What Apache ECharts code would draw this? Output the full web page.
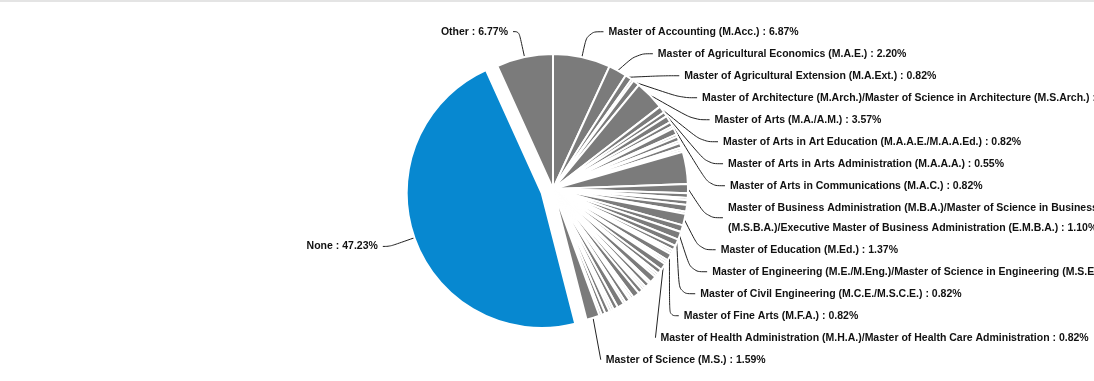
<!DOCTYPE html>
<html>
<head>
<meta charset="utf-8">
<script src="https://cdn.jsdelivr.net/npm/echarts@6/dist/echarts.min.js"></script>
<style>
  html, body { margin: 0; padding: 0; background: #fff; }
  #chart { width: 1094px; height: 381px; }
</style>
</head>
<body>
<div id="chart"></div>
<script>
// Graduate degree held, share of respondents (%), in list order (clockwise from 12 o'clock)
const degrees = [
  'Master of Accounting (M.Acc.)',
  'Master of Agricultural Economics (M.A.E.)',
  'Master of Agricultural Extension (M.A.Ext.)',
  'Master of Applied Science (M.A.S.)',
  'Master of Architecture (M.Arch.)/Master of Science in Architecture (M.S.Arch.)',
  'Master of Arts (M.A./A.M.)',
  'Master of Arts in Art Education (M.A.A.E./M.A.A.Ed.)',
  'Master of Arts in Arts Administration (M.A.A.A.)',
  'Master of Arts in Communications (M.A.C.)',
  'Master of Arts in Counseling (M.A.Couns.)',
  'Master of Arts in Economics (M.A.Econ.)',
  'Master of Arts in Education (M.A.Ed.)',
  'Master of Arts in English (M.A.Eng.)',
  'Master of Arts in Journalism (M.A.J.)',
  'Master of Arts in Liberal Studies (M.A.L.S.)',
  'Master of Arts in Psychology (M.A.Psy.)',
  'Master of Arts in Public Relations (M.A.P.R.)',
  'Master of Arts in Religion (M.A.R.)',
  'Master of Arts in Teaching (M.A.T.)',
  'Master of Business Administration (M.B.A.)/Master of Science in Business\n(M.S.B.A.)/Executive Master of Business Administration (E.M.B.A.)',
  'Master of Computer Science (M.C.S.)',
  'Master of Counseling (M.Couns.)',
  'Master of Criminal Justice (M.C.J.)',
  'Master of Divinity (M.Div.)',
  'Master of Economics (M.Econ.)',
  'Master of Education (M.Ed.)',
  'Master of Educational Leadership (M.E.L.)',
  'Master of Engineering (M.E./M.Eng.)/Master of Science in Engineering (M.S.E.)',
  'Master of Civil Engineering (M.C.E./M.S.C.E.)',
  'Master of Electrical Engineering (M.E.E.)',
  'Master of Mechanical Engineering (M.M.E.)',
  'Master of Environmental Management (M.E.M.)',
  'Master of Fine Arts (M.F.A.)',
  'Master of Forestry (M.F.)',
  'Master of Geography (M.Geo.)',
  'Master of Health Administration (M.H.A.)/Master of Health Care Administration',
  'Master of Information Systems (M.I.S.)',
  'Master of International Affairs (M.I.A.)',
  'Master of Landscape Architecture (M.L.A.)',
  'Master of Laws (LL.M.)',
  'Master of Liberal Arts (M.L.Arts)',
  'Master of Library Science (M.L.S.)',
  'Master of Management (M.M.)',
  'Master of Mass Communication (M.M.C.)',
  'Master of Music (M.Mus.)',
  'Master of Nursing (M.N.)',
  'Master of Occupational Therapy (M.O.T.)',
  'Master of Pharmacy (M.Pharm.)',
  'Master of Physical Therapy (M.P.T.)',
  'Master of Professional Studies (M.P.S.)',
  'Master of Public Administration (M.P.A.)',
  'Master of Public Health (M.P.H.)',
  'Master of Public Policy (M.P.P.)',
  'Master of Real Estate (M.R.E.)',
  'Master of Regional Planning (M.R.P.)',
  'Master of Rehabilitation Counseling (M.R.C.)',
  'Master of Religious Education (M.R.E.)',
  'Master of Science (M.S.)',
  'None',
  'Other'
];

const shares = [
  6.87, 2.20, 0.82, 0.27, 0.82, 3.57, 0.82, 0.55, 0.82,
  0.55, 0.27, 0.82, 0.27, 0.55, 0.27, 0.55, 0.27, 0.27,
  3.85, 1.10,
  0.55, 0.27, 0.55, 0.82, 0.27,
  1.37, 0.82, 0.96, 0.82, 0.55, 0.27, 0.27, 0.82, 0.27, 0.27, 0.82,
  0.55, 0.27, 0.27, 0.82, 0.27, 0.55, 0.27, 0.27, 0.55, 0.82,
  0.27, 0.27, 0.55, 0.27, 0.82, 0.55, 0.27, 0.27, 0.55, 0.47, 0.27,
  1.59,
  47.23,
  6.77
];

// Degrees whose slices carry a name/percentage label
const labelled = [
  'Master of Accounting (M.Acc.)',
  'Master of Agricultural Economics (M.A.E.)',
  'Master of Agricultural Extension (M.A.Ext.)',
  'Master of Architecture (M.Arch.)/Master of Science in Architecture (M.S.Arch.)',
  'Master of Arts (M.A./A.M.)',
  'Master of Arts in Art Education (M.A.A.E./M.A.A.Ed.)',
  'Master of Arts in Arts Administration (M.A.A.A.)',
  'Master of Arts in Communications (M.A.C.)',
  'Master of Business Administration (M.B.A.)/Master of Science in Business\n(M.S.B.A.)/Executive Master of Business Administration (E.M.B.A.)',
  'Master of Education (M.Ed.)',
  'Master of Engineering (M.E./M.Eng.)/Master of Science in Engineering (M.S.E.)',
  'Master of Civil Engineering (M.C.E./M.S.C.E.)',
  'Master of Fine Arts (M.F.A.)',
  'Master of Health Administration (M.H.A.)/Master of Health Care Administration',
  'Master of Science (M.S.)',
  'None',
  'Other'
];

const highlighted = 'None';

const GRAY = '#7b7b7b';
const BLUE = '#0788d0';

// Shorter horizontal leader tails for a few labels
const shortTail = { 'None': 7, 'Other': 6, 'Master of Science (M.S.)': 0 };

const pieData = degrees.map((name, i) => {
  const item = {
    name: name,
    value: shares[i],
    itemStyle: { color: name === highlighted ? BLUE : GRAY }
  };
  if (name === highlighted) item.selected = true;
  if (labelled.indexOf(name) < 0) {
    item.label = { show: false };
    item.labelLine = { show: false };
  } else if (shortTail[name] !== undefined) {
    item.labelLine = { length2: shortTail[name] };
  }
  return item;
});

const chart = echarts.init(document.getElementById('chart'), null, { renderer: 'canvas' });
chart.setOption({
  animation: false,
  backgroundColor: '#ffffff',
  graphic: [{
    type: 'rect',
    shape: { x: 0, y: 0, width: 1094, height: 2 },
    style: { fill: '#e4e4e4' },
    silent: true
  }],
  series: [{
    type: 'pie',
    center: [553, 189],
    radius: 135,
    startAngle: 90,
    clockwise: true,
    selectedMode: 'single',
    selectedOffset: 12,
    avoidLabelOverlap: true,
    itemStyle: { borderColor: '#ffffff', borderWidth: 2 },
    emphasis: { disabled: true },
    label: {
      show: true,
      color: '#111111',
      fontSize: 10.5,
      fontWeight: 'bold',
      fontFamily: '"Liberation Sans", Arial, sans-serif',
      lineHeight: 20,
      overflow: 'none',
      formatter: p => p.name + ' : ' + p.value.toFixed(2) + '%'
    },
    labelLine: {
      show: true,
      length: 26,
      length2: 16,
      smooth: 0.4,
      lineStyle: { color: '#222222', width: 1 }
    },
    data: pieData
  }]
});
</script>
</body>
</html>
